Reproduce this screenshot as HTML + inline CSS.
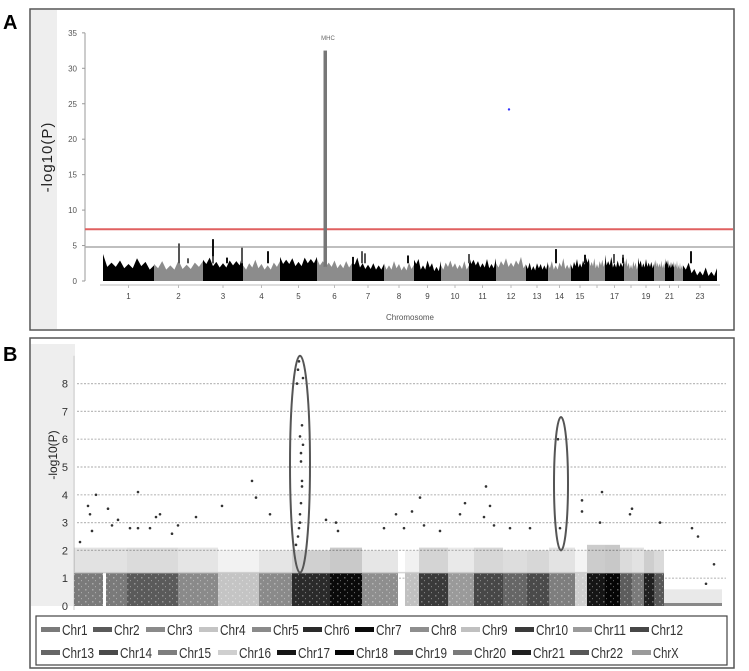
<!DOCTYPE html>
<html><head><meta charset="utf-8"><style>
html,body{margin:0;padding:0;background:#fff;}
svg{display:block;font-family:"Liberation Sans",sans-serif;}
</style></head><body>
<svg id="fig" width="749" height="671" viewBox="0 0 749 671" xmlns="http://www.w3.org/2000/svg">
<defs>
<pattern id="speck" width="7" height="6" patternUnits="userSpaceOnUse">
<rect x="1" y="1" width="1.5" height="1.5" fill="#fff"/><rect x="4" y="4" width="1" height="1.2" fill="#fff"/>
</pattern>
</defs>
<!-- Panel A -->
<text x="3" y="29" font-size="20" font-weight="bold">A</text>
<rect x="30" y="9" width="704" height="321" fill="#fff" stroke="#555" stroke-width="1.5"/>
<rect x="31" y="10" width="26" height="319" fill="#eee"/>
<g id="gA"></g>
<!-- Panel B -->
<text x="3" y="361" font-size="20" font-weight="bold">B</text>
<rect x="30" y="338" width="704" height="330" fill="#fff" stroke="#555" stroke-width="1.5"/>
<rect x="31" y="344" width="44" height="262" fill="#eee"/>
<g id="gB"></g>
<rect x="36" y="616" width="691" height="49" fill="#fff" stroke="#444" stroke-width="1.2"/>
<g id="legend"></g>
</svg>
<script>
// ---------- Panel A data ----------
const chrA = ["1","2","3","4","5","6","7","8","9","10","11","12","13","14","15","16","17","18","19","20","21","22","23"];
const chrAStart = [0,51,100,140,177,214,249,281,311,338,366,393,423,445,468,486,502,521,535,551,562,571,580];
const chrAEnd   = [51,100,140,177,214,249,281,311,338,366,393,423,445,468,486,502,521,535,551,562,571,580,614];
const chrALabelShown = [1,1,1,1,1,1,1,1,1,1,1,1,1,1,1,0,1,0,1,0,1,0,1];
const bandA = [
 [3.8,2.6,2.9,2.4,3.2,2.7,2.2],[2.4,2.8,2.2,2.9,2.3,2.6,2.8],[3.0,3.3,2.7,2.5,2.9,2.8,4.0],
 [2.2,2.5,3.0,2.4,2.2,2.6,2.8],[3.4,3.0,3.2,2.7,3.3,3.1,3.4],[3.1,2.8,2.6,2.9,2.4,2.8,2.5],
 [2.9,3.3,2.5,2.3,2.5,2.2,2.4],[2.5,2.2,2.8,2.4,2.1,2.6,2.3],[3.0,3.1,2.2,2.9,2.5,2.0,2.8],
 [2.2,2.6,2.9,2.5,2.3,2.8,2.2],[3.6,3.0,2.8,2.5,3.1,2.4,3.2],[2.5,2.8,3.2,2.6,2.9,3.4,2.4],
 [2.3,2.6,2.1,2.5,2.4,2.2,2.7],[2.4,2.8,2.2,2.6,3.2,2.3,2.5],[2.3,2.7,3.1,2.5,2.9,3.3,3.2],
 [3.0,2.7,3.2,2.4,2.8,3.0,2.6],[3.7,2.8,3.4,2.5,2.9,2.6,2.9],[2.9,3.2,2.6,2.3,2.8,2.6,2.2],
 [3.3,2.9,2.5,3.1,2.6,2.7,2.4],[2.8,3.0,2.6,2.5,2.9,2.4,2.7],[3.2,2.9,3.0,2.4,2.7,2.5,2.8],
 [2.6,2.5,2.9,2.3,2.6,2.2,2.4],[2.2,2.6,1.7,1.4,1.9,1.3,1.8]];
const spikeAPos = [76,110,139,165,259,305,366,453,520,482,511,588,110,124,85,250,262,520];
const spikeAVal = [5.3,5.9,4.7,4.2,4.2,3.6,3.8,4.5,3.7,3.7,3.8,4.2,3.5,3.3,3.2,3.4,3.9,3.3];
const mhcPos = [222];
const mhcVal = [32.5];
const yTicksA = [0,5,10,15,20,25,30,35];
const redLineA = [7.3];
const grayLineA = [4.8];
const blueDotPos = [406];
const blueDotVal = [24.2];

const NS = "http://www.w3.org/2000/svg";
function mk(tag, attrs, parent){const e=document.createElementNS(NS,tag);for(const k in attrs)e.setAttribute(k,attrs[k]);parent.appendChild(e);return e;}
const xA = u => 103 + u;
const yA = v => 281 - v*7.09;
const gA = document.getElementById('gA');

let ax = mk('line',{x1:85,y1:yA(35),x2:85,y2:yA(0),stroke:'#999','stroke-width':1},gA);


yTicksA.forEach(t=>{
  let tk=mk('line',{x1:82,x2:85,y1:yA(t),y2:yA(t),stroke:'#999'},gA);
  
  
  let tl=mk('text',{x:77,y:yA(t)+3,'font-size':8,'text-anchor':'end',fill:'#555'},gA);
  tl.textContent=t;
  
  
});
let yt=mk('text',{x:0,y:0,'font-size':15,'text-anchor':'middle',fill:'#222',transform:'translate(52,157) rotate(-90)','letter-spacing':'1'},gA);
yt.textContent='-log10(P)';


let gl=mk('line',{x1:85,x2:733,y1:yA(grayLineA[0]),y2:yA(grayLineA[0]),stroke:'#aaa','stroke-width':1.5},gA);


let rl=mk('line',{x1:85,x2:733,y1:yA(redLineA[0]),y2:yA(redLineA[0]),stroke:'#e06060','stroke-width':2},gA);


let xl=mk('line',{x1:100,x2:720,y1:285,y2:285,stroke:'#bbb'},gA);


chrA.forEach((c,i)=>{
  const s=chrAStart[i], e=chrAEnd[i], b=bandA[i], n=b.length;
  const col = i%2===0 ? '#000' : '#8c8c8c';
  let pts=[xA(s)+','+yA(0)];
  for(let k=0;k<n;k++){const u=s+(e-s)*k/(n-1);pts.push(xA(u)+','+yA(b[k]));if(k<n-1){const um=s+(e-s)*(k+0.5)/(n-1);pts.push(xA(um)+','+yA(Math.min(b[k],b[k+1])-0.6));}}
  pts.push(xA(e)+','+yA(0));
  let p=mk('polygon',{points:pts.join(' '),fill:col},gA);
  
  
  if(chrALabelShown[i]){
    let tx=mk('text',{x:xA((s+e)/2),y:299,'font-size':8,'text-anchor':'middle',fill:'#444'},gA);
    tx.textContent=c;
    
    
  }
  let tk=mk('line',{x1:xA((s+e)/2),x2:xA((s+e)/2),y1:285,y2:288,stroke:'#bbb'},gA);
  
  
});
spikeAPos.forEach((u,i)=>{
  let d=mk('rect',{x:xA(u)-1,y:yA(spikeAVal[i]),width:2,height:yA(2.5)-yA(spikeAVal[i]),fill:i%2?'#111':'#555'},gA);
  
  
});
mhcPos.forEach((u,i)=>{
  let m=mk('rect',{x:xA(u)-1.5,y:yA(mhcVal[i]),width:3.5,height:yA(2)-yA(mhcVal[i]),fill:'#777'},gA);
  
  
  let t=mk('text',{x:xA(u)+3,y:40,'font-size':6,'text-anchor':'middle',fill:'#666'},gA);
  t.textContent='MHC';
  
  
});
blueDotPos.forEach((u,i)=>{
  let b=mk('circle',{cx:xA(u),cy:yA(blueDotVal[i]),r:1.2,fill:'#33f'},gA);
  
  
});
let xt=mk('text',{x:410,y:320,'font-size':8,'text-anchor':'middle',fill:'#555'},gA);
xt.textContent='Chromosome';



// ---------- Panel B data ----------
const chrB = ["Chr1","Chr2","Chr3","Chr4","Chr5","Chr6","Chr7","Chr8","Chr9","Chr10","Chr11","Chr12","Chr13","Chr14","Chr15","Chr16","Chr17","Chr18","Chr19","Chr20","Chr21","Chr22","ChrX"];
const chrBColor = ["#7a7a7a","#5a5a5a","#8a8a8a","#c4c4c4","#8a8a8a","#2a2a2a","#0a0a0a","#8e8e8e","#c0c0c0","#3a3a3a","#9a9a9a","#474747","#666","#4a4a4a","#7e7e7e","#cfcfcf","#151515","#050505","#5c5c5c","#7a7a7a","#202020","#575757","#9a9a9a"];
const chrBStart = [0,53,104,144,185,218,256,288,331,345,374,400,429,453,475,501,513,531,546,558,570,580,590];
const chrBEnd   = [53,104,144,185,218,256,288,324,345,374,400,429,453,475,501,513,531,546,558,570,580,590,648];
const bandBVal  = [1.2,1.2,1.2,1.2,1.2,1.2,1.2,1.2,1.2,1.2,1.2,1.2,1.2,1.2,1.2,1.2,1.2,1.2,1.2,1.2,1.2,1.2,0.1];
const cloudBVal = [2.1,2.1,2.1,2.0,2.0,2.0,2.1,2.0,2.0,2.1,2.1,2.1,2.0,2.0,2.1,2.0,2.2,2.2,2.1,2.1,2.0,2.0,0.6];
const snpBPos = [6,14,16,18,22,34,38,44,56,64,64,76,82,86,98,104,122,148,178,182,196,222,223,224,224,225,225,226,226,226,227,227,227,228,228,228,229,229,252,262,264,310,322,330,338,346,350,366,386,391,410,412,416,420,436,456,484,486,508,508,526,528,556,558,586,624,618,640,632];
const snpBVal = [2.3,3.6,3.3,2.7,4.0,3.5,2.9,3.1,2.8,2.8,4.1,2.8,3.2,3.3,2.6,2.9,3.2,3.6,4.5,3.9,3.3,2.2,8.0,2.5,8.5,2.8,8.8,3.0,6.1,3.3,5.5,3.7,5.2,4.3,6.5,4.5,5.8,8.2,3.1,3.0,2.7,2.8,3.3,2.8,3.4,3.9,2.9,2.7,3.3,3.7,3.2,4.3,3.6,2.9,2.8,2.8,6.0,2.8,3.8,3.4,3.0,4.1,3.3,3.5,3.0,2.5,2.8,1.5,0.8];
const yTicksB = [0,1,2,3,4,5,6,7,8];
const ellipseCenter = [226,487];
const ellipseLow = [1.2,2.0];
const ellipseHigh = [9.0,6.8];
const ellipseHalfWidth = [10,7];

const xB = u => 74 + u;
const yB = v => 606 - v*27.8;
const gB = document.getElementById('gB');
yTicksB.forEach(t=>{
  if(t>0){let g=mk('line',{x1:77,x2:726,y1:yB(t),y2:yB(t),stroke:'#bbb','stroke-dasharray':'2,1.5','stroke-width':1.2},gB);
  
  }
  let tl=mk('text',{x:68,y:yB(t)+4,'font-size':11,'text-anchor':'end',fill:'#333'},gB);
  tl.textContent=t;
  
  
});
let byt=mk('text',{x:0,y:0,'font-size':12,'text-anchor':'middle',fill:'#222',transform:'translate(57,455) rotate(-90)'},gB);
byt.textContent='-log10(P)';


let bax=mk('line',{x1:74,x2:74,y1:yB(9),y2:yB(0)+4,stroke:'#ccc'},gB);


chrB.forEach((c,i)=>{
  const s=chrBStart[i], e=chrBEnd[i];
  let cl=mk('rect',{x:xB(s),y:yB(cloudBVal[i]),width:e-s,height:yB(bandBVal[i])-yB(cloudBVal[i]),fill:chrBColor[i],opacity:0.22},gB);
  
  
  let r=mk('rect',{x:xB(s),y:yB(bandBVal[i]),width:e-s,height:yB(0)-yB(bandBVal[i]),fill:chrBColor[i]},gB);
  
  
  let sp=mk('rect',{x:xB(s),y:yB(bandBVal[i]),width:e-s,height:yB(0)-yB(bandBVal[i]),fill:'url(#speck)',opacity:0.35},gB);
  
  
});
let gap=mk('rect',{x:xB(29),y:yB(1.2),width:3,height:yB(0)-yB(1.2),fill:'#fff'},gB);


let hl=mk('line',{x1:xB(0),x2:xB(590),y1:yB(1.2),y2:yB(1.2),stroke:'#ccc','stroke-width':1.5,opacity:0.8},gB);


let bl=mk('rect',{x:xB(590),y:yB(0)-3,width:58,height:3,fill:'#888'},gB);


snpBPos.forEach((u,i)=>{
  let d=mk('circle',{cx:xB(u),cy:yB(snpBVal[i]),r:1.3,fill:'#333'},gB);
  
  
});
ellipseCenter.forEach((u,i)=>{
  const cy=(yB(ellipseLow[i])+yB(ellipseHigh[i]))/2, ry=(yB(ellipseLow[i])-yB(ellipseHigh[i]))/2;
  let el=mk('ellipse',{cx:xB(u),cy:cy,rx:ellipseHalfWidth[i],ry:ry,fill:'none',stroke:'#555','stroke-width':2},gB);
  
  
});
const lg=document.getElementById('legend');
const legRow1X=[41,93,146,199,252,303,355,410,461,515,573,630];
const legRow2X=[41,99,158,218,277,335,394,453,512,570,632];
chrB.forEach((c,i)=>{
  const row=i<12?0:1, x=row?legRow2X[i-12]:legRow1X[i], y=row?653:630;
  let sw=mk('rect',{x:x,y:y-3,width:19,height:5,fill:chrBColor[i]},lg);
  
  
  let t=mk('text',{x:x+21,y:y+5,'font-size':15,fill:'#333',textLength:(c.length*6.4),lengthAdjust:'spacingAndGlyphs'},lg);
  t.textContent=c;
  
  
});
</script>
</body></html>
